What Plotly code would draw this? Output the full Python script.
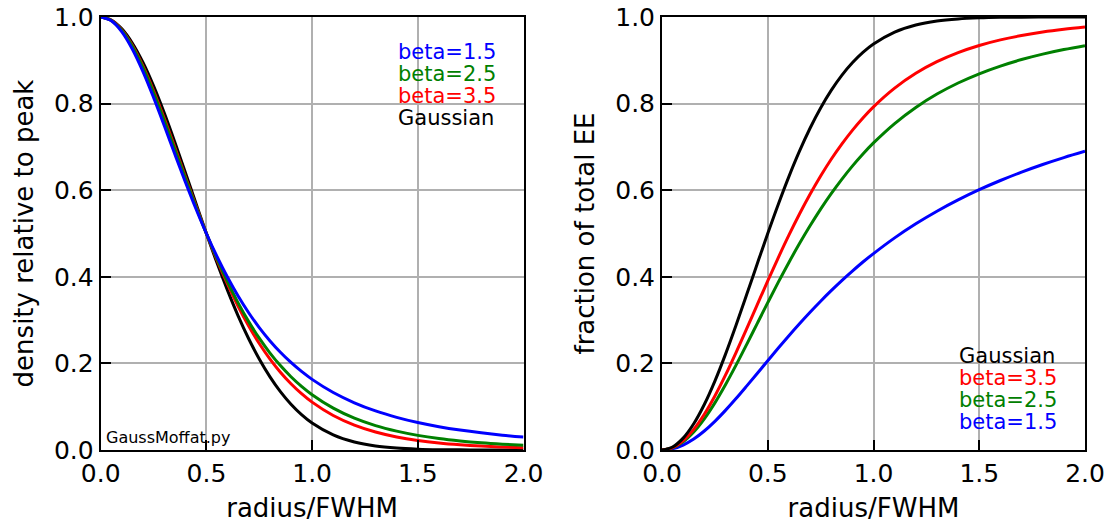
import plotly.graph_objects as go

# radius / FWHM sample points
radius = [0.0, 0.05, 0.1, 0.15, 0.2, 0.25, 0.3, 0.35, 0.4, 0.45, 0.5,
          0.55, 0.6, 0.65, 0.7, 0.75, 0.8, 0.85, 0.9, 0.95, 1.0,
          1.1, 1.2, 1.3, 1.4, 1.5, 1.6, 1.7, 1.8, 1.9, 2.0]

# density relative to peak (left panel)
prof_b15 = [1.0, 0.9913, 0.9658, 0.9256, 0.8739, 0.8142, 0.7500, 0.6842, 0.6196, 0.5578, 0.5000,
            0.4469, 0.3988, 0.3555, 0.3169, 0.2827, 0.2524, 0.2257, 0.2022, 0.1814, 0.1631,
            0.1327, 0.1090, 0.0902, 0.0754, 0.0634, 0.0538, 0.0460, 0.0396, 0.0342, 0.0298]
prof_b25 = [1.0, 0.9921, 0.9688, 0.9316, 0.8828, 0.8252, 0.7617, 0.6952, 0.6281, 0.5625, 0.5000,
            0.4417, 0.3882, 0.3398, 0.2965, 0.2582, 0.2244, 0.1949, 0.1692, 0.1470, 0.1277,
            0.0966, 0.0735, 0.0563, 0.0435, 0.0338, 0.0265, 0.0210, 0.0167, 0.0134, 0.0108]
prof_b35 = [1.0, 0.9924, 0.9699, 0.9340, 0.8864, 0.8298, 0.7667, 0.6999, 0.6318, 0.5646, 0.5000,
            0.4392, 0.3831, 0.3321, 0.2865, 0.2460, 0.2106, 0.1797, 0.1531, 0.1302, 0.1106,
            0.0797, 0.0575, 0.0416, 0.0302, 0.0221, 0.0163, 0.0121, 0.0090, 0.0068, 0.0052]
prof_gauss = [1.0, 0.9931, 0.9727, 0.9395, 0.8950, 0.8409, 0.7792, 0.7120, 0.6417, 0.5704, 0.5000,
              0.4323, 0.3686, 0.3099, 0.2570, 0.2102, 0.1696, 0.1349, 0.1058, 0.0819, 0.0625,
              0.0349, 0.0185, 0.0092, 0.0044, 0.0020, 0.0008, 0.0003, 0.0001, 0.0000, 0.0000]

# fraction of total encircled energy (right panel)
ee_b15 = [0.0, 0.0029, 0.0115, 0.0254, 0.0439, 0.0662, 0.0915, 0.1188, 0.1475, 0.1768, 0.2063,
          0.2355, 0.2640, 0.2916, 0.3182, 0.3437, 0.3680, 0.3912, 0.4131, 0.4341, 0.4536,
          0.4899, 0.5224, 0.5515, 0.5776, 0.6012, 0.6224, 0.6417, 0.6593, 0.6753, 0.6899]
ee_b25 = [0.0, 0.0048, 0.0189, 0.0416, 0.0721, 0.1089, 0.1507, 0.1960, 0.2435, 0.2920, 0.3402,
          0.3876, 0.4332, 0.4767, 0.5178, 0.5563, 0.5920, 0.6251, 0.6556, 0.6836, 0.7092,
          0.7539, 0.7911, 0.8220, 0.8476, 0.8689, 0.8867, 0.9017, 0.9142, 0.9248, 0.9338]
ee_b35 = [0.0, 0.0055, 0.0216, 0.0476, 0.0825, 0.1248, 0.1728, 0.2250, 0.2796, 0.3352, 0.3905,
          0.4444, 0.4961, 0.5449, 0.5905, 0.6327, 0.6714, 0.7065, 0.7383, 0.7669, 0.7926,
          0.8358, 0.8700, 0.8968, 0.9178, 0.9343, 0.9472, 0.9573, 0.9654, 0.9717, 0.9768]
ee_gauss = [0.0, 0.0069, 0.0274, 0.0605, 0.1050, 0.1591, 0.2208, 0.2880, 0.3583, 0.4296, 0.5000,
            0.5677, 0.6314, 0.6901, 0.7430, 0.7898, 0.8304, 0.8651, 0.8942, 0.9181, 0.9375,
            0.9651, 0.9816, 0.9908, 0.9956, 0.9980, 0.9992, 0.9997, 0.9999, 1.0000, 1.0000]

labels = ["beta=1.5", "beta=2.5", "beta=3.5", "Gaussian"]
colors = ["#0000ff", "#008000", "#ff0000", "#000000"]
x_ticks = [0.0, 0.5, 1.0, 1.5, 2.0]
y_ticks = [0.0, 0.2, 0.4, 0.6, 0.8, 1.0]

FONT = "DejaVu Sans"
W, H = 1112, 527
ML, MR, MT, MB = 100, 27, 17, 77
PW, PH = W - ML - MR, H - MT - MB


def px(x):
    """page pixel x -> paper coordinate"""
    return (x - ML) / PW


def py(y):
    """page pixel y -> paper coordinate"""
    return (H - MB - y) / PH


fig = go.Figure()

left_series = [prof_b15, prof_b25, prof_b35, prof_gauss]
right_series = [ee_b15, ee_b25, ee_b35, ee_gauss]

# left panel: draw black first, blue last
for i in [3, 2, 1, 0]:
    fig.add_trace(go.Scatter(x=radius, y=left_series[i], mode="lines",
                             line=dict(color=colors[i], width=3, shape="spline", smoothing=1.0),
                             xaxis="x", yaxis="y", showlegend=False, name=labels[i]))
for i in [0, 1, 2, 3]:
    fig.add_trace(go.Scatter(x=radius, y=right_series[i], mode="lines",
                             line=dict(color=colors[i], width=3, shape="spline", smoothing=1.0),
                             xaxis="x2", yaxis="y2", showlegend=False, name=labels[i]))

axis_common = dict(
    showline=True, linecolor="black", linewidth=2, mirror=True,
    ticks="inside", ticklen=10, tickwidth=1.5, tickcolor="black",
    showgrid=True, gridcolor="#b0b0b0", gridwidth=1.5,
    zeroline=False, automargin=False, ticklabeloverflow="allow",
    tickfont=dict(family=FONT, size=25, color="black"),
)

x_dom_left = [px(100.7), px(523.5)]
x_dom_right = [px(662), 1.0]

fig.update_layout(
    width=W, height=H,
    margin=dict(l=ML, r=MR, t=MT, b=MB),
    paper_bgcolor="white", plot_bgcolor="white",
    font=dict(family=FONT, color="black"),
    showlegend=False,
    xaxis=dict(domain=x_dom_left, range=[0, 2], tickvals=x_ticks,
               ticktext=[f"{v:.1f}" for v in x_ticks], anchor="y",
               title=dict(text="radius/FWHM", font=dict(family=FONT, size=26), standoff=12),
               **axis_common),
    yaxis=dict(domain=[0, 1], range=[0, 1], tickvals=y_ticks,
               ticktext=[f"{v:.1f}" for v in y_ticks], anchor="x",
               title=dict(text="density relative to peak", font=dict(family=FONT, size=26), standoff=13),
               **axis_common),
    xaxis2=dict(domain=x_dom_right, range=[0, 2], tickvals=x_ticks,
                ticktext=[f"{v:.1f}" for v in x_ticks], anchor="y2",
                title=dict(text="radius/FWHM", font=dict(family=FONT, size=26), standoff=12),
                **axis_common),
    yaxis2=dict(domain=[0, 1], range=[0, 1], tickvals=y_ticks,
                ticktext=[f"{v:.1f}" for v in y_ticks], anchor="x2",
                title=dict(text="fraction of total EE", font=dict(family=FONT, size=26), standoff=13),
                **axis_common),
)

annotations = []
# left legend (top right of left panel)
for j, (lab, col) in enumerate(zip(labels, colors)):
    annotations.append(dict(text=lab, x=px(396), y=py(52 + 22 * j), xref="paper", yref="paper",
                            xanchor="left", yanchor="middle", showarrow=False,
                            font=dict(family=FONT, size=21, color=col)))
# right legend (bottom right of right panel), reversed order
for j, i in enumerate([3, 2, 1, 0]):
    annotations.append(dict(text=labels[i], x=px(957), y=py(356 + 22 * j), xref="paper", yref="paper",
                            xanchor="left", yanchor="middle", showarrow=False,
                            font=dict(family=FONT, size=21, color=colors[i])))
annotations.append(dict(text="GaussMoffat.py", x=px(104), y=py(437), xref="paper", yref="paper",
                        xanchor="left", yanchor="middle", showarrow=False,
                        font=dict(family=FONT, size=16, color="black")))
fig.update_layout(annotations=annotations)

# remove the default page margin so the figure sits at the window's top-left corner
fig.write_html("out.html", config={"displayModeBar": False},
               post_script="document.body.style.margin='0';document.body.style.padding='0';")
